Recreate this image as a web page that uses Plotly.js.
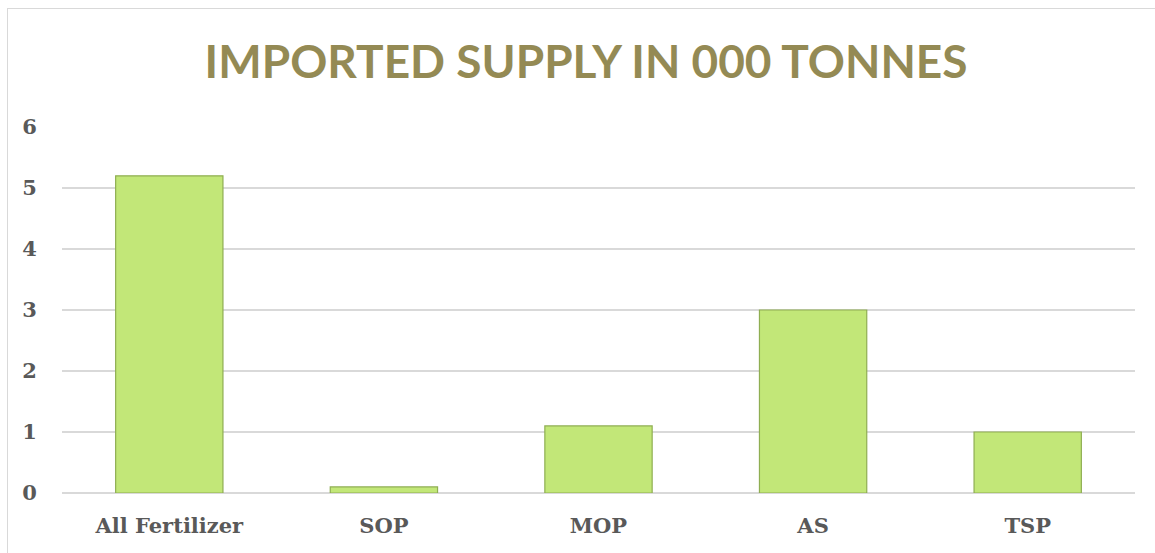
<!DOCTYPE html>
<html>
<head>
<meta charset="utf-8">
<script src="https://cdn.plot.ly/plotly-3.0.1.min.js"></script>
<style>
  html, body { margin: 0; padding: 0; background: #ffffff; }
  #frame { position: absolute; left: 7px; top: 8px; width: 1160px; height: 560px; border: 1px solid #d9d9d9; box-sizing: border-box; }
  #chart { position: absolute; left: 8px; top: 9px; width: 1147px; height: 544px; }
</style>
</head>
<body>
<div id="frame"></div>
<div id="chart"></div>
<script>
const categories = ["All Fertilizer", "SOP", "MOP", "AS", "TSP"];
const importedSupply = [5.2, 0.1, 1.1, 3.0, 1.0];
const yTicks = [0, 1, 2, 3, 4, 5, 6];
const chartTitle = "IMPORTED SUPPLY IN 000 TONNES";

const trace = {
  type: "bar",
  x: categories,
  y: importedSupply,
  width: 0.5,
  marker: {
    color: "#c2e778",
    line: { color: "#8fae52", width: 1.2 }
  },
  hoverinfo: "x+y"
};

const layout = {
  width: 1147,
  height: 544,
  margin: { l: 54, r: 20, t: 118, b: 60 },
  paper_bgcolor: "rgba(0,0,0,0)",
  plot_bgcolor: "rgba(0,0,0,0)",
  showlegend: false,
  title: {
    text: "<b>" + chartTitle + "</b>",
    font: { family: "Lato, 'Open Sans', sans-serif", size: 46, color: "#948A54" },
    x: 0.504, xanchor: "center",
    xref: "container", yref: "container",
    y: 0.902, yanchor: "middle"
  },
  xaxis: {
    type: "category",
    tickfont: { family: "'DejaVu Serif', serif", size: 21, color: "#595959" },
    ticks: "outside", ticklen: 14, tickcolor: "rgba(0,0,0,0)",
    showline: false, showgrid: false, zeroline: false,
    tickprefix: "<b>", ticksuffix: "</b>"
  },
  yaxis: {
    range: [0, 6],
    tickvals: yTicks,
    ticktext: yTicks.map(v => "<b>" + v + "</b>"),
    tickfont: { family: "'DejaVu Serif', serif", size: 21, color: "#595959" },
    ticks: "outside", ticklen: 20, tickcolor: "rgba(0,0,0,0)",
    showgrid: true, gridcolor: "#d9d9d9", gridwidth: 1.5,
    zeroline: true, zerolinecolor: "#d9d9d9", zerolinewidth: 1.5,
    showline: false
  },
  bargap: 0.5
};

Plotly.newPlot("chart", [trace], layout, { displayModeBar: false, staticPlot: true });
</script>
</body>
</html>
